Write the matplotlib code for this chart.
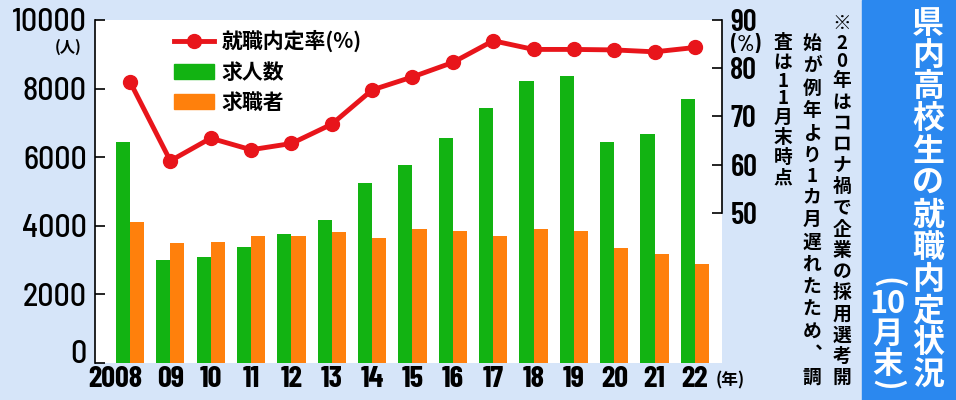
import matplotlib
matplotlib.use('Agg')
import matplotlib.pyplot as plt
from matplotlib import font_manager as fm
from matplotlib.lines import Line2D
from matplotlib.patches import Patch, Rectangle
from matplotlib.transforms import ScaledTranslation
import numpy as np

# ---------------- data ----------------
years = ['2008', '09', '10', '11', '12', '13', '14', '15', '16', '17',
         '18', '19', '20', '21', '22']
job_openings = [6450, 3000, 3080, 3390, 3750, 4170, 5240, 5770, 6550, 7420,
                8220, 8370, 6450, 6680, 7700]
job_seekers = [4110, 3490, 3520, 3700, 3700, 3810, 3650, 3900, 3850, 3710,
               3900, 3860, 3340, 3170, 2880]
offer_rate = [77.2, 60.8, 65.5, 63.1, 64.4, 68.4, 75.5, 78.2, 81.2, 85.7,
              83.9, 83.9, 83.8, 83.4, 84.3]
left_ticks = [0, 2000, 4000, 6000, 8000, 10000]
right_ticks = [50, 60, 70, 80, 90]
legend_labels = ['就職内定率(%)', '求人数', '求職者']
title_text = '県内高校生の就職内定状況'
note_cols = ['※20年はコロナ禍で企業の採用選考開', '始が例年より1カ月遅れたため︑調', '査は11月末時点']

# ---------------- style ----------------
BG = '#d6e5f9'
BLUE = '#2b88ef'
GREEN = '#12b312'
ORANGE = '#ff800c'
RED = '#e8151b'
CJK = 'Noto Sans CJK JP'
plt.rcParams['font.family'] = [CJK, 'DejaVu Sans']
names = {f.name for f in fm.fontManager.ttflist}


def pick(*cands):
    for c in cands:
        if c in names:
            return c
    return 'Liberation Sans'


NUM_C = pick('Barlow Condensed', 'Archivo Narrow', 'Asap Condensed', 'Liberation Sans Narrow')
NUM_SC = pick('Barlow Semi Condensed', 'Barlow Condensed', 'Archivo Narrow', 'Asap Condensed')
scale = 1.0 if NUM_C != 'Liberation Sans' else 0.75

W, H = 956, 400
fig = plt.figure(figsize=(W / 100, H / 100), dpi=100, facecolor=BG)


def fx(px):
    return px / W


def fy(py):
    return 1 - py / H


ax = fig.add_axes([fx(95), fy(363), fx(722) - fx(95), fy(20) - fy(363)])
ax.set_facecolor('white')
x = np.arange(len(years))
bw = 0.35
ax.bar(x - bw / 2, job_openings, bw, color=GREEN, zorder=2)
ax.bar(x + bw / 2, job_seekers, bw, color=ORANGE, zorder=2)
ax.set_xlim(-0.867, 14.67)
ax.set_ylim(0, 10000)
for s in ['top', 'right', 'bottom']:
    ax.spines[s].set_visible(False)
ax.spines['left'].set_linewidth(1.2)
ax.set_yticks(left_ticks, [str(v) for v in left_ticks], fontfamily=NUM_SC,
              fontweight='medium', fontsize=23 * scale)
ax.tick_params(axis='y', direction='in', length=7, width=1.2, pad=6)
ax.set_xticks(x, years, fontfamily=NUM_C, fontweight='bold', fontsize=22 * scale)
ax.tick_params(axis='x', length=0, pad=2)
ax.get_yticklabels()[0].set_verticalalignment('baseline')
lbl0 = ax.get_xticklabels()[0]
lbl0.set_transform(lbl0.get_transform() + ScaledTranslation(-0.15, 0, fig.dpi_scale_trans))

ax2 = ax.twinx()
ax2.set_ylim(18.9, 90)
for s in ['top', 'left', 'bottom']:
    ax2.spines[s].set_visible(False)
ax2.spines['right'].set_bounds(50, 90)
ax2.spines['right'].set_linewidth(1.2)
ax2.set_yticks(right_ticks, [str(v) for v in right_ticks], fontfamily=NUM_C,
               fontweight='semibold', fontsize=22 * scale)
ax2.tick_params(axis='y', direction='in', length=7, width=1.2, pad=6)
ax2.plot(x, offer_rate, color=RED, lw=3.5, marker='o', ms=10, zorder=3)

handles = [Line2D([], [], color=RED, lw=3.5, marker='o', ms=10),
           Patch(color=GREEN), Patch(color=ORANGE)]
fig.legend(handles, legend_labels, loc='upper left', bbox_to_anchor=(fx(174), fy(30)),
           frameon=False, handlelength=1.9, handletextpad=0.4, labelspacing=0.45,
           borderpad=0, borderaxespad=0,
           prop={'family': [CJK, 'DejaVu Sans'], 'weight': 'bold', 'size': 15})

fig.text(fx(68), fy(47), '(人)', fontsize=11, fontweight='bold', ha='center', va='center')
fig.text(fx(746), fy(45), '(%)', fontsize=16 * scale, fontfamily=NUM_C, fontweight='semibold',
         ha='center', va='center')
fig.text(fx(730), fy(380), '(年)', fontsize=12, fontweight='bold', ha='center', va='center')

# title panel
fig.add_artist(Rectangle((fx(862), 0), 1 - fx(862), 1, transform=fig.transFigure,
                         color=BLUE, zorder=0))


def vcol(xc, top, bottom, items, size, color='black', weight='bold'):
    units = []
    for it in items:
        if isinstance(it, tuple):
            units.append(it[1])
        elif it.isdigit():
            units.append(0.85)
        else:
            units.append(1.0)
    pitch = (bottom - top) / sum(units)
    y = top
    for it, u in zip(items, units):
        rot = 0
        ch = it
        if isinstance(it, tuple):
            ch = it[0]
            rot = it[2] if len(it) > 2 else 0
        yc = y + u * pitch / 2
        fig.text(fx(xc), fy(yc), ch, fontsize=size,
                 color=color, fontweight=weight, ha='center', va='center',
                 rotation=rot, fontfamily=[CJK, 'DejaVu Sans'])
        y += u * pitch


vcol(928, 8, 392, list(title_text), 23, color='white')
vcol(888, 276, 392, [('(', 0.45, 270), ('10', 1.0), ('月', 1.0), ('末', 1.0), (')', 0.45, 270)],
     22, color='white')
vcol(842, 13, 388, list(note_cols[0]), 13.5)
vcol(812, 32, 388, list(note_cols[1]), 13.5)
vcol(783, 32, 188, list(note_cols[2]), 13.5)

fig.savefig('out.png', dpi=100, facecolor=BG)
